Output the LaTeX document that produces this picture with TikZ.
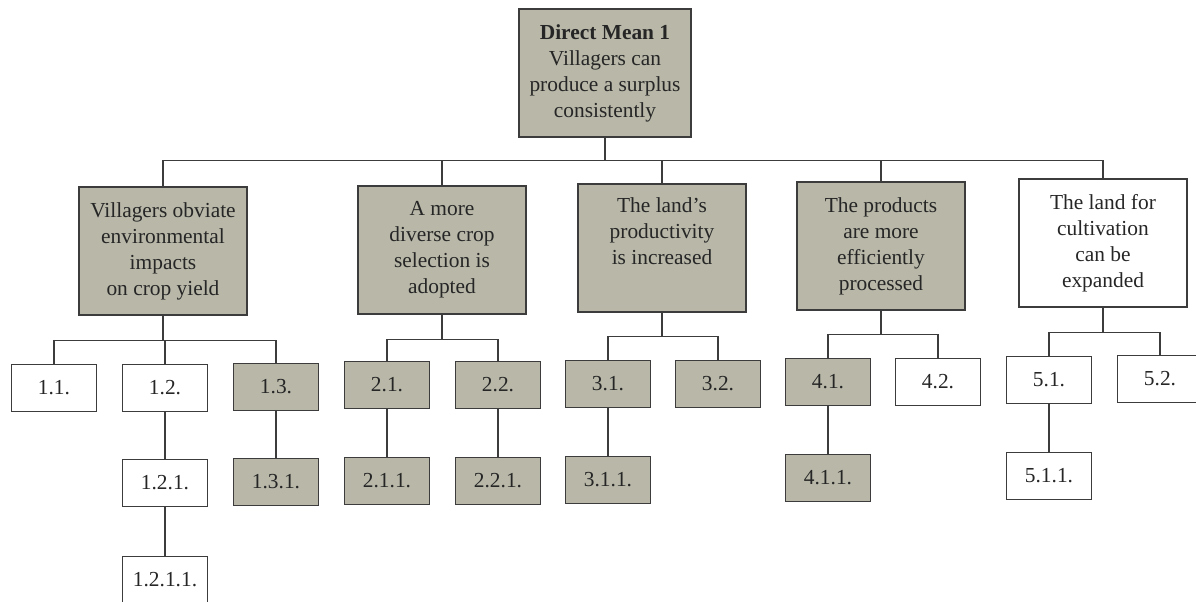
\documentclass[tikz,border=0pt]{standalone}
\usepackage{fontspec}
\setmainfont{Liberation Serif}
\usetikzlibrary{positioning}

\definecolor{meanfill}{RGB}{184,183,168}
\definecolor{meanline}{RGB}{60,60,60}

\tikzset{
  goal/.style={draw=meanline, line width=0.7pt, inner sep=0pt, align=center,
    minimum width=84pt, minimum height=64pt, text=black!85},
  sub/.style={draw=meanline, line width=0.7pt, inner sep=0pt,
    minimum width=42.5pt, minimum height=23.5pt, text=black!85},
  shaded/.style={fill=meanfill}
}

\begin{document}
\begin{tikzpicture}[x=0.5pt, y=-0.5pt, font=\fontsize{10.7}{13}\selectfont]
  \useasboundingbox (0,0) rectangle (1196,601);

  % Nodes
  \node[goal, shaded, minimum width=86pt] (top) at (605,73)
    {\textbf{Direct Mean 1}\\Villagers can\\produce a surplus\\consistently};

  \node[goal, shaded] (b1) at (163,251)
    {Villagers obviate\\environmental\\impacts\\on crop yield};
  \node[goal, shaded] (b2) at (442,250)
    {A more\\diverse crop\\selection is\\adopted};
  \node[goal, shaded] (b3) at (662,248)
    {The land's\\productivity\\is increased\\\strut};
  \node[goal, shaded] (b4) at (881,246)
    {The products\\are more\\efficiently\\processed};
  \node[goal] (b5) at (1103,243)
    {The land for\\cultivation\\can be\\expanded};

  \node[sub] (c11) at (54,388) {1.1.};
  \node[sub] (c12) at (165,388) {1.2.};
  \node[sub, shaded] (c13) at (276,387) {1.3.};
  \node[sub, shaded] (c21) at (387,385) {2.1.};
  \node[sub, shaded] (c22) at (498,385) {2.2.};
  \node[sub, shaded] (c31) at (608,384) {3.1.};
  \node[sub, shaded] (c32) at (718,384) {3.2.};
  \node[sub, shaded] (c41) at (828,382) {4.1.};
  \node[sub] (c42) at (938,382) {4.2.};
  \node[sub] (c51) at (1049,380) {5.1.};
  \node[sub] (c52) at (1160,379) {5.2.};

  \node[sub] (d121) at (165,483) {1.2.1.};
  \node[sub, shaded] (d131) at (276,482) {1.3.1.};
  \node[sub, shaded] (d211) at (387,481) {2.1.1.};
  \node[sub, shaded] (d221) at (498,481) {2.2.1.};
  \node[sub, shaded] (d311) at (608,480) {3.1.1.};
  \node[sub, shaded] (d411) at (828,478) {4.1.1.};
  \node[sub] (d511) at (1049,476) {5.1.1.};

  \node[sub] (e1211) at (165,580) {1.2.1.1.};

  % Edges
  \begin{scope}[draw=meanline, line width=0.7pt]
    \foreach \b in {b1,b2,b3,b4,b5}
      \draw (top.south) -- ++(0,23) -| (\b.north);

    \draw (b1.south) -- ++(0,25) -| (c11.north);
    \draw (b1.south) -- ++(0,25) -| (c12.north);
    \draw (b1.south) -- ++(0,25) -| (c13.north);
    \draw (b2.south) -- ++(0,25) -| (c21.north);
    \draw (b2.south) -- ++(0,25) -| (c22.north);
    \draw (b3.south) -- ++(0,24) -| (c31.north);
    \draw (b3.south) -- ++(0,24) -| (c32.north);
    \draw (b4.south) -- ++(0,24) -| (c41.north);
    \draw (b4.south) -- ++(0,24) -| (c42.north);
    \draw (b5.south) -- ++(0,25) -| (c51.north);
    \draw (b5.south) -- ++(0,25) -| (c52.north);

    \draw (c12) -- (d121);
    \draw (c13) -- (d131);
    \draw (c21) -- (d211);
    \draw (c22) -- (d221);
    \draw (c31) -- (d311);
    \draw (c41) -- (d411);
    \draw (c51) -- (d511);
    \draw (d121) -- (e1211);
  \end{scope}

\end{tikzpicture}
\end{document}
